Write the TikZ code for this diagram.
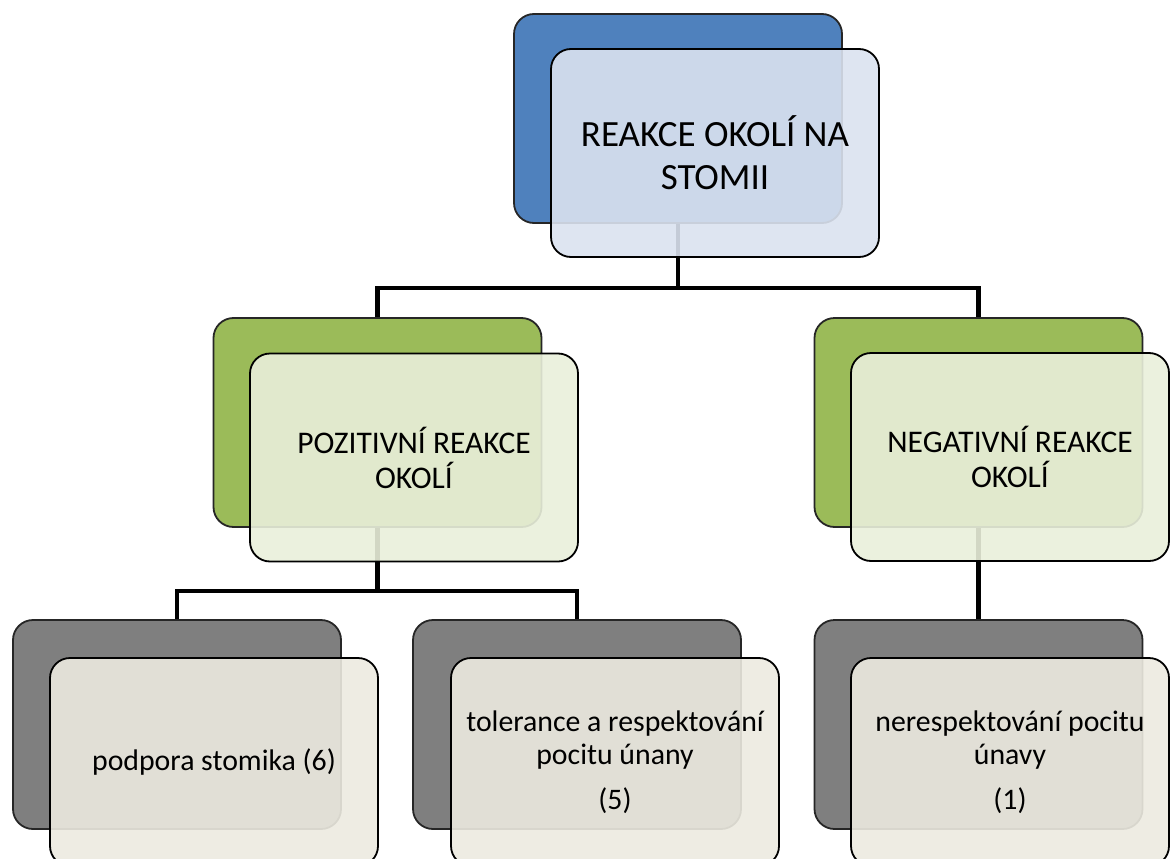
\documentclass[tikz,border=0pt]{standalone}
\usepackage{fontspec}
\setmainfont{Carlito}
\usetikzlibrary{backgrounds}
\definecolor{blueback}{HTML}{4F81BD}
\definecolor{bluefront}{HTML}{DAE2EF}
\definecolor{greenback}{HTML}{9BBB59}
\definecolor{greenfront}{HTML}{E9EFDA}
\definecolor{grayback}{HTML}{7F7F7F}
\definecolor{grayfront}{HTML}{ECEAE0}
\begin{document}
\begin{tikzpicture}[x=1pt,y=-1pt,
  backbox/.style={draw=black!85, line width=1.8pt, rounded corners=20pt,
    minimum width=328pt, minimum height=209pt, inner sep=0pt},
  frontbox/.style={draw=black, line width=1.8pt, rounded corners=20pt,
    fill opacity=0.9, text opacity=1, minimum width=328pt, minimum height=208pt,
    inner sep=0pt, align=center, text=black},
  conn/.style={line width=4.5pt, black},
  topfont/.style={font=\fontsize{37}{43}\selectfont},
  midfont/.style={font=\fontsize{31.5}{35}\selectfont},
  lowfont/.style={font=\fontsize{29.8}{33}\selectfont}]
\useasboundingbox (0,0) rectangle (1170,859);
\clip (0,0) rectangle (1170,859);

% top
\node[backbox, fill=blueback] (tb) at (678,118.5) {};
\node[frontbox, fill=bluefront, topfont] (tf) at (715,153) {REAKCE OKOLÍ NA\\STOMII};

% middle
\node[backbox, fill=greenback] (lb) at (377.5,422.5) {};
\node[frontbox, fill=greenfront, midfont] (lf) at (414,457.5) {POZITIVNÍ REAKCE\\OKOLÍ};
\node[backbox, fill=greenback] (rb) at (978.5,422.5) {};
\node[frontbox, fill=greenfront, midfont, minimum width=318pt] (rf) at (1010,457) {NEGATIVNÍ REAKCE\\OKOLÍ};

% bottom
\node[backbox, fill=grayback] (b1) at (177,724.5) {};
\node[frontbox, fill=grayfront, lowfont] (f1) at (214,762) {podpora stomika (6)};
\node[backbox, fill=grayback] (b2) at (577,724.5) {};
\node[frontbox, fill=grayfront, lowfont] (f2) at (615,762) {tolerance a respektování\\pocitu únany\\[12pt](5)};
\node[backbox, fill=grayback] (b3) at (978.5,724.5) {};
\node[frontbox, fill=grayfront, lowfont, minimum width=318pt] (f3) at (1010,762) {nerespektování pocitu\\únavy\\[12pt](1)};

\coordinate (j1) at (678,288);
\coordinate (j2) at (377.5,591);

\begin{scope}[on background layer]
\draw[conn] (tb.south) -- (j1) -| (lb.north);
\draw[conn] (j1) -| (rb.north);
\draw[conn] (lb.south) -- (j2) -| (b1.north);
\draw[conn] (j2) -| (b2.north);
\draw[conn] (rb.south) -- (b3.north);
\end{scope}
\end{tikzpicture}
\end{document}
